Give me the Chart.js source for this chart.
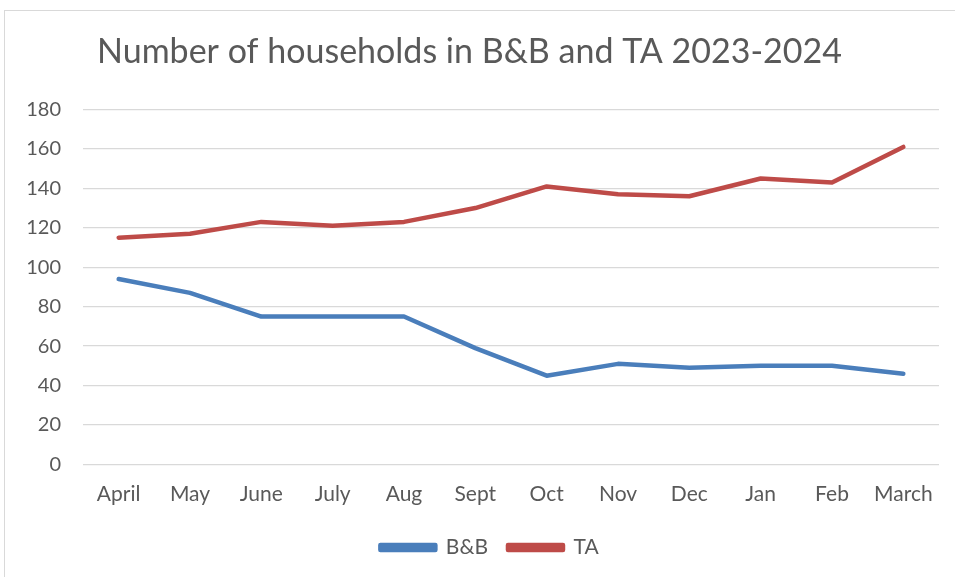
<!DOCTYPE html>
<html>
<head>
<meta charset="utf-8">
<script src="https://cdn.jsdelivr.net/npm/chart.js@4"></script>
<style>
  html, body { margin: 0; padding: 0; background: #fff; }
  #wrap { position: relative; width: 955px; height: 577px; overflow: hidden; }
  #frame { position: absolute; left: 4px; top: 10px; width: 980px; height: 620px; border: 1px solid #d9d9d9; box-sizing: border-box; }
  canvas { position: absolute; left: 0; top: 0; }
</style>
</head>
<body>
<div id="wrap">
  <div id="frame"></div>
  <canvas id="c" width="955" height="577"></canvas>
</div>
<script>
const titleText = 'Number of households in B&B and TA 2023-2024';
const months = ['April', 'May', 'June', 'July', 'Aug', 'Sept', 'Oct', 'Nov', 'Dec', 'Jan', 'Feb', 'March'];
const bbValues = [94, 87, 75, 75, 75, 59, 45, 51, 49, 50, 50, 46];
const taValues = [115, 117, 123, 121, 123, 130, 141, 137, 136, 145, 143, 161];
const yMin = 0, yMax = 180, yStep = 20;

const FONT = 'Lato, "Open Sans", sans-serif';
const TEXT = '#595959';

const legendShift = {
  id: 'legendShift',
  afterLayout(chart) {
    if (chart.legend) { chart.legend.left += 20; chart.legend.right += 20; }
  }
};

new Chart(document.getElementById('c'), {
  type: 'line',
  data: {
    labels: months,
    datasets: [
      { label: 'B&B', data: bbValues, borderColor: '#4A7EBB', backgroundColor: '#4A7EBB',
        borderWidth: 4.5, pointRadius: 0, tension: 0, borderCapStyle: 'round', borderJoinStyle: 'round' },
      { label: 'TA', data: taValues, borderColor: '#BE4B48', backgroundColor: '#BE4B48',
        borderWidth: 4.5, pointRadius: 0, tension: 0, borderCapStyle: 'round', borderJoinStyle: 'round' }
    ]
  },
  plugins: [legendShift],
  options: {
    responsive: false,
    animation: false,
    devicePixelRatio: 1,
    layout: { padding: { top: 18, left: 0, right: 16, bottom: 9 } },
    plugins: {
      title: {
        display: true, text: titleText, color: TEXT,
        font: { family: FONT, size: 34, weight: 'normal' },
        padding: { top: 14, bottom: 36.7 }
      },
      legend: {
        position: 'bottom',
        labels: {
          color: TEXT, font: { family: FONT, size: 21 },
          boxWidth: 55, boxHeight: 5, padding: 20
        }
      },
      tooltip: { enabled: false }
    },
    scales: {
      x: {
        offset: true,
        grid: { display: false, drawTicks: false },
        border: { display: false },
        ticks: { color: TEXT, font: { family: FONT, size: 21 }, padding: 17, maxRotation: 0, autoSkip: false },
        afterFit: (s) => { s.height = 52.6; }
      },
      y: {
        min: yMin, max: yMax,
        grid: { color: '#d9d9d9', lineWidth: 1.3, drawTicks: false },
        border: { display: false },
        ticks: { stepSize: yStep, color: TEXT, font: { family: FONT, size: 20 }, padding: 22 },
        afterFit: (s) => { s.width = 83; }
      }
    }
  }
});
</script>
</body>
</html>
